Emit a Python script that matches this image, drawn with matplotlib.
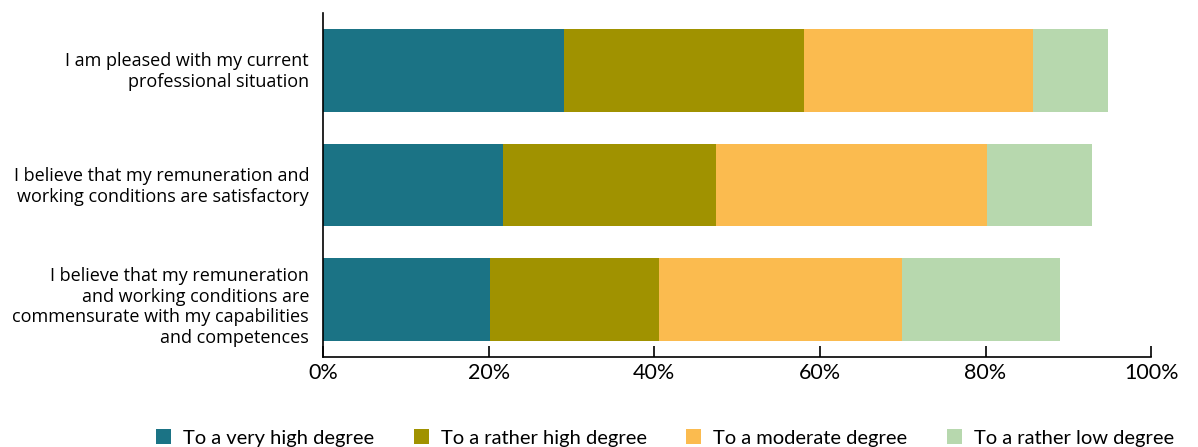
import numpy as np
import matplotlib
matplotlib.use("Agg")
import matplotlib.pyplot as plt
from matplotlib.transforms import ScaledTranslation

plt.rcParams['font.family'] = ['Lato', 'DejaVu Sans']

questions = [
    "I am pleased with my current\nprofessional situation",
    "I believe that my remuneration and\nworking conditions are satisfactory",
    "I believe that my remuneration\nand working conditions are\ncommensurate with my capabilities\nand competences",
]
series_names = ["To a very high degree", "To a rather high degree",
                "To a moderate degree", "To a rather low degree"]
very_high = [29.1, 21.7, 20.2]
rather_high = [29.0, 25.8, 20.4]
moderate = [27.6, 32.7, 29.3]
rather_low = [9.1, 12.6, 19.1]
colors = ["#1b7385", "#a09200", "#fbbb4f", "#b7d8ae"]

fig = plt.figure(figsize=(11.98, 4.47), dpi=100)
ax = fig.add_axes([0.2696, 0.2013, 0.6913, 0.7696])

y = np.arange(len(questions))
left = np.zeros(len(questions))
for vals, name, c in zip([very_high, rather_high, moderate, rather_low], series_names, colors):
    ax.barh(y, vals, left=left, height=0.72, color=c, label=name)
    left += np.array(vals)

ax.set_ylim(2.5, -0.5)
ax.set_xlim(0, 100)
ax.set_yticks(y)
ax.set_yticklabels(questions, fontsize=13, linespacing=1.2, family=['Open Sans', 'DejaVu Sans'])
ax.tick_params(axis='y', length=0, pad=10)
# small vertical nudges so the label blocks sit like the original
for lbl, dy in zip(ax.get_yticklabels(), [2, 2, -4]):
    lbl.set_transform(lbl.get_transform() + ScaledTranslation(0, dy / 100, fig.dpi_scale_trans))
ax.set_xticks(np.arange(0, 101, 20))
ax.set_xticklabels([f"{v}%" for v in range(0, 101, 20)], fontsize=15.5)
ax.tick_params(axis='x', direction='in', length=8, width=1.2, pad=4)
for s in ['top', 'right']:
    ax.spines[s].set_visible(False)
for s in ['left', 'bottom']:
    ax.spines[s].set_linewidth(1.2)

fig.legend(loc='lower center', bbox_to_anchor=(0.555, -0.04), ncol=4, frameon=False,
           fontsize=14.5, handlelength=0.75, handleheight=0.75, handletextpad=0.6,
           columnspacing=1.95)

fig.savefig("out.png", dpi=100)
